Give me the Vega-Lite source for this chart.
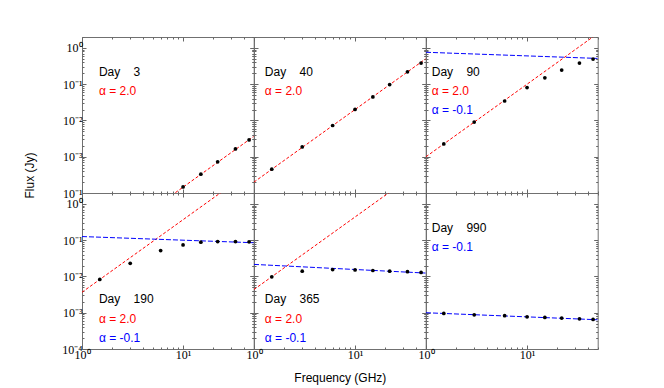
{
  "$schema": "https://vega.github.io/schema/vega-lite/v6.json",
  "autosize": {"type": "pad"},
  "padding": {"left": 22, "top": 30, "right": 5, "bottom": 5},
  "background": "white",
  "config": {
    "view": {"stroke": "#707070", "strokeWidth": 1},
    "axis": {"grid": false, "domain": false, "tickColor": "#666666", "labelFont": "Liberation Serif", "labelFontSize": 12, "labelColor": "black", "labelOverlap": false, "labelFlush": false, "titleFont": "Liberation Sans", "titleFontSize": 12, "titleFontWeight": "normal", "titleColor": "black"}
  },
  "datasets": {
    "points": [
      {"day": 3, "nu": 10, "flux": 0.000147}, {"day": 3, "nu": 15, "flux": 0.000331}, {"day": 3, "nu": 22, "flux": 0.000726}, {"day": 3, "nu": 33, "flux": 0.00164}, {"day": 3, "nu": 45, "flux": 0.00291},
      {"day": 40, "nu": 1.5, "flux": 0.000455}, {"day": 40, "nu": 3, "flux": 0.00186}, {"day": 40, "nu": 6, "flux": 0.00726}, {"day": 40, "nu": 10, "flux": 0.0202}, {"day": 40, "nu": 15, "flux": 0.0444}, {"day": 40, "nu": 22, "flux": 0.098}, {"day": 40, "nu": 33, "flux": 0.22}, {"day": 40, "nu": 45, "flux": 0.383},
      {"day": 90, "nu": 1.5, "flux": 0.00225}, {"day": 90, "nu": 3, "flux": 0.009}, {"day": 90, "nu": 6, "flux": 0.0344}, {"day": 90, "nu": 10, "flux": 0.0807}, {"day": 90, "nu": 15, "flux": 0.15}, {"day": 90, "nu": 22, "flux": 0.245}, {"day": 90, "nu": 33, "flux": 0.383}, {"day": 90, "nu": 45, "flux": 0.494},
      {"day": 190, "nu": 1.5, "flux": 0.00826}, {"day": 190, "nu": 3, "flux": 0.023}, {"day": 190, "nu": 6, "flux": 0.0516}, {"day": 190, "nu": 10, "flux": 0.0741}, {"day": 190, "nu": 15, "flux": 0.0879}, {"day": 190, "nu": 22, "flux": 0.0918}, {"day": 190, "nu": 33, "flux": 0.0918}, {"day": 190, "nu": 45, "flux": 0.0899},
      {"day": 365, "nu": 1.5, "flux": 0.00977}, {"day": 365, "nu": 3, "flux": 0.014}, {"day": 365, "nu": 6, "flux": 0.0155}, {"day": 365, "nu": 10, "flux": 0.0151}, {"day": 365, "nu": 15, "flux": 0.0146}, {"day": 365, "nu": 22, "flux": 0.014}, {"day": 365, "nu": 33, "flux": 0.0135}, {"day": 365, "nu": 45, "flux": 0.0129},
      {"day": 990, "nu": 1.5, "flux": 0.000957}, {"day": 990, "nu": 3, "flux": 0.000879}, {"day": 990, "nu": 6, "flux": 0.000826}, {"day": 990, "nu": 10, "flux": 0.000774}, {"day": 990, "nu": 15, "flux": 0.000741}, {"day": 990, "nu": 22, "flux": 0.000711}, {"day": 990, "nu": 33, "flux": 0.000681}, {"day": 990, "nu": 45, "flux": 0.000653}
    ],
    "fits": [
      {"day": 3, "alpha": "2.0", "nu": 1, "flux": 0.000001445}, {"day": 3, "alpha": "2.0", "nu": 50, "flux": 0.00363},
      {"day": 40, "alpha": "2.0", "nu": 1, "flux": 0.0002}, {"day": 40, "alpha": "2.0", "nu": 50, "flux": 0.5},
      {"day": 90, "alpha": "2.0", "nu": 1, "flux": 0.001}, {"day": 90, "alpha": "2.0", "nu": 50, "flux": 2.5},
      {"day": 90, "alpha": "-0.1", "nu": 1, "flux": 0.759}, {"day": 90, "alpha": "-0.1", "nu": 50, "flux": 0.513},
      {"day": 190, "alpha": "2.0", "nu": 1, "flux": 0.00367}, {"day": 190, "alpha": "2.0", "nu": 50, "flux": 9.18},
      {"day": 190, "alpha": "-0.1", "nu": 1, "flux": 0.126}, {"day": 190, "alpha": "-0.1", "nu": 50, "flux": 0.0851},
      {"day": 365, "alpha": "2.0", "nu": 1, "flux": 0.00437}, {"day": 365, "alpha": "2.0", "nu": 50, "flux": 10.9},
      {"day": 365, "alpha": "-0.1", "nu": 1, "flux": 0.0215}, {"day": 365, "alpha": "-0.1", "nu": 50, "flux": 0.0124},
      {"day": 990, "alpha": "-0.1", "nu": 1, "flux": 0.001}, {"day": 990, "alpha": "-0.1", "nu": 50, "flux": 0.00064}
    ],
    "labels": [
      {"day": 3, "alpha": "day", "text": "Day\u00a0\u00a0\u00a0\u00a03", "nu": 1.47, "flux": 0.215},
      {"day": 3, "alpha": "2.0", "text": "α = 2.0", "nu": 1.47, "flux": 0.0645},
      {"day": 40, "alpha": "day", "text": "Day\u00a0\u00a0\u00a0\u00a040", "nu": 1.28, "flux": 0.215},
      {"day": 40, "alpha": "2.0", "text": "α = 2.0", "nu": 1.28, "flux": 0.0645},
      {"day": 90, "alpha": "day", "text": "Day\u00a0\u00a0\u00a0\u00a090", "nu": 1.14, "flux": 0.215},
      {"day": 90, "alpha": "2.0", "text": "α = 2.0", "nu": 1.14, "flux": 0.0645},
      {"day": 90, "alpha": "-0.1", "text": "α = -0.1", "nu": 1.14, "flux": 0.0195},
      {"day": 190, "alpha": "day", "text": "Day\u00a0\u00a0\u00a0\u00a0190", "nu": 1.47, "flux": 0.00245},
      {"day": 190, "alpha": "2.0", "text": "α = 2.0", "nu": 1.47, "flux": 0.00067},
      {"day": 190, "alpha": "-0.1", "text": "α = -0.1", "nu": 1.47, "flux": 0.0002},
      {"day": 365, "alpha": "day", "text": "Day\u00a0\u00a0\u00a0\u00a0365", "nu": 1.28, "flux": 0.00245},
      {"day": 365, "alpha": "2.0", "text": "α = 2.0", "nu": 1.28, "flux": 0.00067},
      {"day": 365, "alpha": "-0.1", "text": "α = -0.1", "nu": 1.28, "flux": 0.0002},
      {"day": 990, "alpha": "day", "text": "Day\u00a0\u00a0\u00a0\u00a0990", "nu": 1.14, "flux": 0.215},
      {"day": 990, "alpha": "-0.1", "text": "α = -0.1", "nu": 1.14, "flux": 0.0645}
    ]
  },
  "columns": 3,
  "spacing": 0,
  "bounds": "flush",
  "concat": [
    {
      "width": 171.7, "height": 156,
      "layer": [
        {"data": {"name": "fits"}, "transform": [{"filter": "datum.day == 3"}],
         "mark": {"type": "line", "clip": true, "strokeWidth": 1},
         "encoding": {
           "x": {"field": "nu", "type": "quantitative", "scale": {"type": "log", "domain": [1, 50], "nice": false}, "axis": {"orient": "top", "values": [1,2,3,4,5,6,7,8,9,10,20,30,40,50], "labels": false, "title": null, "tickSize": {"condition": {"test": "datum.value==1||datum.value==10", "value": -4}, "value": -2}}},
           "y": {"field": "flux", "type": "quantitative", "scale": {"type": "log", "domain": [0.0001, 2], "nice": false}, "axis": {"orient": "right", "values": [0.0001,0.0002,0.0003,0.0004,0.0005,0.0006,0.0007,0.0008,0.0009,0.001,0.002,0.003,0.004,0.005,0.006,0.007,0.008,0.009,0.01,0.02,0.03,0.04,0.05,0.06,0.07,0.08,0.09,0.1,0.2,0.3,0.4,0.5,0.6,0.7,0.8,0.9,1,2], "labels": false, "title": null, "tickSize": {"condition": {"test": "datum.value==1||datum.value==0.1||datum.value==0.01||datum.value==0.001||datum.value==0.0001", "value": -4}, "value": -2}}},
           "color": {"field": "alpha", "type": "nominal", "scale": {"domain": ["day", "2.0", "-0.1"], "range": ["black", "#ff0000", "#0000ff"]}, "legend": null},
           "strokeDash": {"field": "alpha", "type": "nominal", "scale": {"domain": ["2.0", "-0.1"], "range": [[3, 2], [5, 2]]}, "legend": null}
         }},
        {"data": {"name": "points"}, "transform": [{"filter": "datum.day == 3"}],
         "mark": {"type": "circle", "color": "black", "size": 14, "opacity": 1},
         "encoding": {
           "x": {"field": "nu", "type": "quantitative", "scale": {"type": "log", "domain": [1, 50], "nice": false}, "axis": {"orient": "bottom", "values": [1,2,3,4,5,6,7,8,9,10,20,30,40,50], "labels": false, "title": null, "tickSize": {"condition": {"test": "datum.value==1||datum.value==10", "value": -4}, "value": -2}}},
           "y": {"field": "flux", "type": "quantitative", "scale": {"type": "log", "domain": [0.0001, 2], "nice": false}, "axis": {"orient": "left", "values": [0.0001,0.0002,0.0003,0.0004,0.0005,0.0006,0.0007,0.0008,0.0009,0.001,0.002,0.003,0.004,0.005,0.006,0.007,0.008,0.009,0.01,0.02,0.03,0.04,0.05,0.06,0.07,0.08,0.09,0.1,0.2,0.3,0.4,0.5,0.6,0.7,0.8,0.9,1,2], "labelExpr": "datum.value==1?'10⁰':datum.value==0.1?'10⁻¹':datum.value==0.01?'10⁻²':datum.value==0.001?'10⁻³':datum.value==0.0001?'10⁻¹':''", "labelPadding": 4, "title": "Flux (Jy)", "titleX": -53, "titleY": 138, "titleBaseline": "middle", "titleAlign": "center", "titleAngle": -90, "tickSize": {"condition": {"test": "datum.value==1||datum.value==0.1||datum.value==0.01||datum.value==0.001||datum.value==0.0001", "value": -4}, "value": -2}}}
         }},
        {"data": {"name": "labels"}, "transform": [{"filter": "datum.day == 3"}],
         "mark": {"type": "text", "align": "left", "baseline": "middle", "font": "Liberation Sans", "fontSize": 12},
         "encoding": {
           "x": {"field": "nu", "type": "quantitative", "scale": {"type": "log", "domain": [1, 50], "nice": false}, "axis": null},
           "y": {"field": "flux", "type": "quantitative", "scale": {"type": "log", "domain": [0.0001, 2], "nice": false}, "axis": null},
           "text": {"field": "text"},
           "color": {"field": "alpha", "type": "nominal", "scale": {"domain": ["day", "2.0", "-0.1"], "range": ["black", "#ff0000", "#0000ff"]}, "legend": null}
         }}
      ],
      "resolve": {"axis": {"x": "independent", "y": "independent"}}
    },
    {
      "width": 171.7, "height": 156,
      "layer": [
        {"data": {"name": "fits"}, "transform": [{"filter": "datum.day == 40"}],
         "mark": {"type": "line", "clip": true, "strokeWidth": 1},
         "encoding": {
           "x": {"field": "nu", "type": "quantitative", "scale": {"type": "log", "domain": [1, 50], "nice": false}, "axis": {"orient": "top", "values": [1,2,3,4,5,6,7,8,9,10,20,30,40,50], "labels": false, "title": null, "tickSize": {"condition": {"test": "datum.value==1||datum.value==10", "value": -4}, "value": -2}}},
           "y": {"field": "flux", "type": "quantitative", "scale": {"type": "log", "domain": [0.0001, 2], "nice": false}, "axis": {"orient": "right", "values": [0.0001,0.0002,0.0003,0.0004,0.0005,0.0006,0.0007,0.0008,0.0009,0.001,0.002,0.003,0.004,0.005,0.006,0.007,0.008,0.009,0.01,0.02,0.03,0.04,0.05,0.06,0.07,0.08,0.09,0.1,0.2,0.3,0.4,0.5,0.6,0.7,0.8,0.9,1,2], "labels": false, "title": null, "tickSize": {"condition": {"test": "datum.value==1||datum.value==0.1||datum.value==0.01||datum.value==0.001||datum.value==0.0001", "value": -4}, "value": -2}}},
           "color": {"field": "alpha", "type": "nominal", "scale": {"domain": ["day", "2.0", "-0.1"], "range": ["black", "#ff0000", "#0000ff"]}, "legend": null},
           "strokeDash": {"field": "alpha", "type": "nominal", "scale": {"domain": ["2.0", "-0.1"], "range": [[3, 2], [5, 2]]}, "legend": null}
         }},
        {"data": {"name": "points"}, "transform": [{"filter": "datum.day == 40"}],
         "mark": {"type": "circle", "color": "black", "size": 14, "opacity": 1},
         "encoding": {
           "x": {"field": "nu", "type": "quantitative", "scale": {"type": "log", "domain": [1, 50], "nice": false}, "axis": {"orient": "bottom", "values": [1,2,3,4,5,6,7,8,9,10,20,30,40,50], "labels": false, "title": null, "tickSize": {"condition": {"test": "datum.value==1||datum.value==10", "value": -4}, "value": -2}}},
           "y": {"field": "flux", "type": "quantitative", "scale": {"type": "log", "domain": [0.0001, 2], "nice": false}, "axis": {"orient": "left", "values": [0.0001,0.0002,0.0003,0.0004,0.0005,0.0006,0.0007,0.0008,0.0009,0.001,0.002,0.003,0.004,0.005,0.006,0.007,0.008,0.009,0.01,0.02,0.03,0.04,0.05,0.06,0.07,0.08,0.09,0.1,0.2,0.3,0.4,0.5,0.6,0.7,0.8,0.9,1,2], "labels": false, "title": null, "tickSize": {"condition": {"test": "datum.value==1||datum.value==0.1||datum.value==0.01||datum.value==0.001||datum.value==0.0001", "value": -4}, "value": -2}}}
         }},
        {"data": {"name": "labels"}, "transform": [{"filter": "datum.day == 40"}],
         "mark": {"type": "text", "align": "left", "baseline": "middle", "font": "Liberation Sans", "fontSize": 12},
         "encoding": {
           "x": {"field": "nu", "type": "quantitative", "scale": {"type": "log", "domain": [1, 50], "nice": false}, "axis": null},
           "y": {"field": "flux", "type": "quantitative", "scale": {"type": "log", "domain": [0.0001, 2], "nice": false}, "axis": null},
           "text": {"field": "text"},
           "color": {"field": "alpha", "type": "nominal", "scale": {"domain": ["day", "2.0", "-0.1"], "range": ["black", "#ff0000", "#0000ff"]}, "legend": null}
         }}
      ],
      "resolve": {"axis": {"x": "independent", "y": "independent"}}
    },
    {
      "width": 171.7, "height": 156,
      "layer": [
        {"data": {"name": "fits"}, "transform": [{"filter": "datum.day == 90"}],
         "mark": {"type": "line", "clip": true, "strokeWidth": 1},
         "encoding": {
           "x": {"field": "nu", "type": "quantitative", "scale": {"type": "log", "domain": [1, 50], "nice": false}, "axis": {"orient": "top", "values": [1,2,3,4,5,6,7,8,9,10,20,30,40,50], "labels": false, "title": null, "tickSize": {"condition": {"test": "datum.value==1||datum.value==10", "value": -4}, "value": -2}}},
           "y": {"field": "flux", "type": "quantitative", "scale": {"type": "log", "domain": [0.0001, 2], "nice": false}, "axis": {"orient": "right", "values": [0.0001,0.0002,0.0003,0.0004,0.0005,0.0006,0.0007,0.0008,0.0009,0.001,0.002,0.003,0.004,0.005,0.006,0.007,0.008,0.009,0.01,0.02,0.03,0.04,0.05,0.06,0.07,0.08,0.09,0.1,0.2,0.3,0.4,0.5,0.6,0.7,0.8,0.9,1,2], "labels": false, "title": null, "tickSize": {"condition": {"test": "datum.value==1||datum.value==0.1||datum.value==0.01||datum.value==0.001||datum.value==0.0001", "value": -4}, "value": -2}}},
           "color": {"field": "alpha", "type": "nominal", "scale": {"domain": ["day", "2.0", "-0.1"], "range": ["black", "#ff0000", "#0000ff"]}, "legend": null},
           "strokeDash": {"field": "alpha", "type": "nominal", "scale": {"domain": ["2.0", "-0.1"], "range": [[3, 2], [5, 2]]}, "legend": null}
         }},
        {"data": {"name": "points"}, "transform": [{"filter": "datum.day == 90"}],
         "mark": {"type": "circle", "color": "black", "size": 14, "opacity": 1},
         "encoding": {
           "x": {"field": "nu", "type": "quantitative", "scale": {"type": "log", "domain": [1, 50], "nice": false}, "axis": {"orient": "bottom", "values": [1,2,3,4,5,6,7,8,9,10,20,30,40,50], "labels": false, "title": null, "tickSize": {"condition": {"test": "datum.value==1||datum.value==10", "value": -4}, "value": -2}}},
           "y": {"field": "flux", "type": "quantitative", "scale": {"type": "log", "domain": [0.0001, 2], "nice": false}, "axis": {"orient": "left", "values": [0.0001,0.0002,0.0003,0.0004,0.0005,0.0006,0.0007,0.0008,0.0009,0.001,0.002,0.003,0.004,0.005,0.006,0.007,0.008,0.009,0.01,0.02,0.03,0.04,0.05,0.06,0.07,0.08,0.09,0.1,0.2,0.3,0.4,0.5,0.6,0.7,0.8,0.9,1,2], "labels": false, "title": null, "tickSize": {"condition": {"test": "datum.value==1||datum.value==0.1||datum.value==0.01||datum.value==0.001||datum.value==0.0001", "value": -4}, "value": -2}}}
         }},
        {"data": {"name": "labels"}, "transform": [{"filter": "datum.day == 90"}],
         "mark": {"type": "text", "align": "left", "baseline": "middle", "font": "Liberation Sans", "fontSize": 12},
         "encoding": {
           "x": {"field": "nu", "type": "quantitative", "scale": {"type": "log", "domain": [1, 50], "nice": false}, "axis": null},
           "y": {"field": "flux", "type": "quantitative", "scale": {"type": "log", "domain": [0.0001, 2], "nice": false}, "axis": null},
           "text": {"field": "text"},
           "color": {"field": "alpha", "type": "nominal", "scale": {"domain": ["day", "2.0", "-0.1"], "range": ["black", "#ff0000", "#0000ff"]}, "legend": null}
         }}
      ],
      "resolve": {"axis": {"x": "independent", "y": "independent"}}
    },
    {
      "width": 171.7, "height": 156,
      "layer": [
        {"data": {"name": "fits"}, "transform": [{"filter": "datum.day == 190"}],
         "mark": {"type": "line", "clip": true, "strokeWidth": 1},
         "encoding": {
           "x": {"field": "nu", "type": "quantitative", "scale": {"type": "log", "domain": [1, 50], "nice": false}, "axis": {"orient": "top", "values": [1,2,3,4,5,6,7,8,9,10,20,30,40,50], "labels": false, "title": null, "tickSize": {"condition": {"test": "datum.value==1||datum.value==10", "value": -4}, "value": -2}}},
           "y": {"field": "flux", "type": "quantitative", "scale": {"type": "log", "domain": [0.0001, 2], "nice": false}, "axis": {"orient": "right", "values": [0.0001,0.0002,0.0003,0.0004,0.0005,0.0006,0.0007,0.0008,0.0009,0.001,0.002,0.003,0.004,0.005,0.006,0.007,0.008,0.009,0.01,0.02,0.03,0.04,0.05,0.06,0.07,0.08,0.09,0.1,0.2,0.3,0.4,0.5,0.6,0.7,0.8,0.9,1,2], "labels": false, "title": null, "tickSize": {"condition": {"test": "datum.value==1||datum.value==0.1||datum.value==0.01||datum.value==0.001||datum.value==0.0001", "value": -4}, "value": -2}}},
           "color": {"field": "alpha", "type": "nominal", "scale": {"domain": ["day", "2.0", "-0.1"], "range": ["black", "#ff0000", "#0000ff"]}, "legend": null},
           "strokeDash": {"field": "alpha", "type": "nominal", "scale": {"domain": ["2.0", "-0.1"], "range": [[3, 2], [5, 2]]}, "legend": null}
         }},
        {"data": {"name": "points"}, "transform": [{"filter": "datum.day == 190"}],
         "mark": {"type": "circle", "color": "black", "size": 14, "opacity": 1},
         "encoding": {
           "x": {"field": "nu", "type": "quantitative", "scale": {"type": "log", "domain": [1, 50], "nice": false}, "axis": {"orient": "bottom", "values": [1,2,3,4,5,6,7,8,9,10,20,30,40,50], "labelExpr": "datum.value==1?'10⁰':datum.value==10?'10¹':''", "labelPadding": 4, "title": null, "tickSize": {"condition": {"test": "datum.value==1||datum.value==10", "value": -4}, "value": -2}}},
           "y": {"field": "flux", "type": "quantitative", "scale": {"type": "log", "domain": [0.0001, 2], "nice": false}, "axis": {"orient": "left", "values": [0.0001,0.0002,0.0003,0.0004,0.0005,0.0006,0.0007,0.0008,0.0009,0.001,0.002,0.003,0.004,0.005,0.006,0.007,0.008,0.009,0.01,0.02,0.03,0.04,0.05,0.06,0.07,0.08,0.09,0.1,0.2,0.3,0.4,0.5,0.6,0.7,0.8,0.9,1,2], "labelExpr": "datum.value==1?'10⁰':datum.value==0.1?'10⁻¹':datum.value==0.01?'10⁻²':datum.value==0.001?'10⁻³':datum.value==0.0001?'10⁻⁴':''", "labelPadding": 4, "title": null, "tickSize": {"condition": {"test": "datum.value==1||datum.value==0.1||datum.value==0.01||datum.value==0.001||datum.value==0.0001", "value": -4}, "value": -2}}}
         }},
        {"data": {"name": "labels"}, "transform": [{"filter": "datum.day == 190"}],
         "mark": {"type": "text", "align": "left", "baseline": "middle", "font": "Liberation Sans", "fontSize": 12},
         "encoding": {
           "x": {"field": "nu", "type": "quantitative", "scale": {"type": "log", "domain": [1, 50], "nice": false}, "axis": null},
           "y": {"field": "flux", "type": "quantitative", "scale": {"type": "log", "domain": [0.0001, 2], "nice": false}, "axis": null},
           "text": {"field": "text"},
           "color": {"field": "alpha", "type": "nominal", "scale": {"domain": ["day", "2.0", "-0.1"], "range": ["black", "#ff0000", "#0000ff"]}, "legend": null}
         }}
      ],
      "resolve": {"axis": {"x": "independent", "y": "independent"}}
    },
    {
      "width": 171.7, "height": 156,
      "layer": [
        {"data": {"name": "fits"}, "transform": [{"filter": "datum.day == 365"}],
         "mark": {"type": "line", "clip": true, "strokeWidth": 1},
         "encoding": {
           "x": {"field": "nu", "type": "quantitative", "scale": {"type": "log", "domain": [1, 50], "nice": false}, "axis": {"orient": "top", "values": [1,2,3,4,5,6,7,8,9,10,20,30,40,50], "labels": false, "title": null, "tickSize": {"condition": {"test": "datum.value==1||datum.value==10", "value": -4}, "value": -2}}},
           "y": {"field": "flux", "type": "quantitative", "scale": {"type": "log", "domain": [0.0001, 2], "nice": false}, "axis": {"orient": "right", "values": [0.0001,0.0002,0.0003,0.0004,0.0005,0.0006,0.0007,0.0008,0.0009,0.001,0.002,0.003,0.004,0.005,0.006,0.007,0.008,0.009,0.01,0.02,0.03,0.04,0.05,0.06,0.07,0.08,0.09,0.1,0.2,0.3,0.4,0.5,0.6,0.7,0.8,0.9,1,2], "labels": false, "title": null, "tickSize": {"condition": {"test": "datum.value==1||datum.value==0.1||datum.value==0.01||datum.value==0.001||datum.value==0.0001", "value": -4}, "value": -2}}},
           "color": {"field": "alpha", "type": "nominal", "scale": {"domain": ["day", "2.0", "-0.1"], "range": ["black", "#ff0000", "#0000ff"]}, "legend": null},
           "strokeDash": {"field": "alpha", "type": "nominal", "scale": {"domain": ["2.0", "-0.1"], "range": [[3, 2], [5, 2]]}, "legend": null}
         }},
        {"data": {"name": "points"}, "transform": [{"filter": "datum.day == 365"}],
         "mark": {"type": "circle", "color": "black", "size": 14, "opacity": 1},
         "encoding": {
           "x": {"field": "nu", "type": "quantitative", "scale": {"type": "log", "domain": [1, 50], "nice": false}, "axis": {"orient": "bottom", "values": [1,2,3,4,5,6,7,8,9,10,20,30,40,50], "labelExpr": "datum.value==1?'10⁰':datum.value==10?'10¹':''", "labelPadding": 4, "title": "Frequency (GHz)", "titleY": 28, "titleBaseline": "middle", "tickSize": {"condition": {"test": "datum.value==1||datum.value==10", "value": -4}, "value": -2}}},
           "y": {"field": "flux", "type": "quantitative", "scale": {"type": "log", "domain": [0.0001, 2], "nice": false}, "axis": {"orient": "left", "values": [0.0001,0.0002,0.0003,0.0004,0.0005,0.0006,0.0007,0.0008,0.0009,0.001,0.002,0.003,0.004,0.005,0.006,0.007,0.008,0.009,0.01,0.02,0.03,0.04,0.05,0.06,0.07,0.08,0.09,0.1,0.2,0.3,0.4,0.5,0.6,0.7,0.8,0.9,1,2], "labels": false, "title": null, "tickSize": {"condition": {"test": "datum.value==1||datum.value==0.1||datum.value==0.01||datum.value==0.001||datum.value==0.0001", "value": -4}, "value": -2}}}
         }},
        {"data": {"name": "labels"}, "transform": [{"filter": "datum.day == 365"}],
         "mark": {"type": "text", "align": "left", "baseline": "middle", "font": "Liberation Sans", "fontSize": 12},
         "encoding": {
           "x": {"field": "nu", "type": "quantitative", "scale": {"type": "log", "domain": [1, 50], "nice": false}, "axis": null},
           "y": {"field": "flux", "type": "quantitative", "scale": {"type": "log", "domain": [0.0001, 2], "nice": false}, "axis": null},
           "text": {"field": "text"},
           "color": {"field": "alpha", "type": "nominal", "scale": {"domain": ["day", "2.0", "-0.1"], "range": ["black", "#ff0000", "#0000ff"]}, "legend": null}
         }}
      ],
      "resolve": {"axis": {"x": "independent", "y": "independent"}}
    },
    {
      "width": 171.7, "height": 156,
      "layer": [
        {"data": {"name": "fits"}, "transform": [{"filter": "datum.day == 990"}],
         "mark": {"type": "line", "clip": true, "strokeWidth": 1},
         "encoding": {
           "x": {"field": "nu", "type": "quantitative", "scale": {"type": "log", "domain": [1, 50], "nice": false}, "axis": {"orient": "top", "values": [1,2,3,4,5,6,7,8,9,10,20,30,40,50], "labels": false, "title": null, "tickSize": {"condition": {"test": "datum.value==1||datum.value==10", "value": -4}, "value": -2}}},
           "y": {"field": "flux", "type": "quantitative", "scale": {"type": "log", "domain": [0.0001, 2], "nice": false}, "axis": {"orient": "right", "values": [0.0001,0.0002,0.0003,0.0004,0.0005,0.0006,0.0007,0.0008,0.0009,0.001,0.002,0.003,0.004,0.005,0.006,0.007,0.008,0.009,0.01,0.02,0.03,0.04,0.05,0.06,0.07,0.08,0.09,0.1,0.2,0.3,0.4,0.5,0.6,0.7,0.8,0.9,1,2], "labels": false, "title": null, "tickSize": {"condition": {"test": "datum.value==1||datum.value==0.1||datum.value==0.01||datum.value==0.001||datum.value==0.0001", "value": -4}, "value": -2}}},
           "color": {"field": "alpha", "type": "nominal", "scale": {"domain": ["day", "2.0", "-0.1"], "range": ["black", "#ff0000", "#0000ff"]}, "legend": null},
           "strokeDash": {"field": "alpha", "type": "nominal", "scale": {"domain": ["2.0", "-0.1"], "range": [[3, 2], [5, 2]]}, "legend": null}
         }},
        {"data": {"name": "points"}, "transform": [{"filter": "datum.day == 990"}],
         "mark": {"type": "circle", "color": "black", "size": 14, "opacity": 1},
         "encoding": {
           "x": {"field": "nu", "type": "quantitative", "scale": {"type": "log", "domain": [1, 50], "nice": false}, "axis": {"orient": "bottom", "values": [1,2,3,4,5,6,7,8,9,10,20,30,40,50], "labelExpr": "datum.value==1?'10⁰':datum.value==10?'10¹':''", "labelPadding": 4, "title": null, "tickSize": {"condition": {"test": "datum.value==1||datum.value==10", "value": -4}, "value": -2}}},
           "y": {"field": "flux", "type": "quantitative", "scale": {"type": "log", "domain": [0.0001, 2], "nice": false}, "axis": {"orient": "left", "values": [0.0001,0.0002,0.0003,0.0004,0.0005,0.0006,0.0007,0.0008,0.0009,0.001,0.002,0.003,0.004,0.005,0.006,0.007,0.008,0.009,0.01,0.02,0.03,0.04,0.05,0.06,0.07,0.08,0.09,0.1,0.2,0.3,0.4,0.5,0.6,0.7,0.8,0.9,1,2], "labels": false, "title": null, "tickSize": {"condition": {"test": "datum.value==1||datum.value==0.1||datum.value==0.01||datum.value==0.001||datum.value==0.0001", "value": -4}, "value": -2}}}
         }},
        {"data": {"name": "labels"}, "transform": [{"filter": "datum.day == 990"}],
         "mark": {"type": "text", "align": "left", "baseline": "middle", "font": "Liberation Sans", "fontSize": 12},
         "encoding": {
           "x": {"field": "nu", "type": "quantitative", "scale": {"type": "log", "domain": [1, 50], "nice": false}, "axis": null},
           "y": {"field": "flux", "type": "quantitative", "scale": {"type": "log", "domain": [0.0001, 2], "nice": false}, "axis": null},
           "text": {"field": "text"},
           "color": {"field": "alpha", "type": "nominal", "scale": {"domain": ["day", "2.0", "-0.1"], "range": ["black", "#ff0000", "#0000ff"]}, "legend": null}
         }}
      ],
      "resolve": {"axis": {"x": "independent", "y": "independent"}}
    }
  ]
}
